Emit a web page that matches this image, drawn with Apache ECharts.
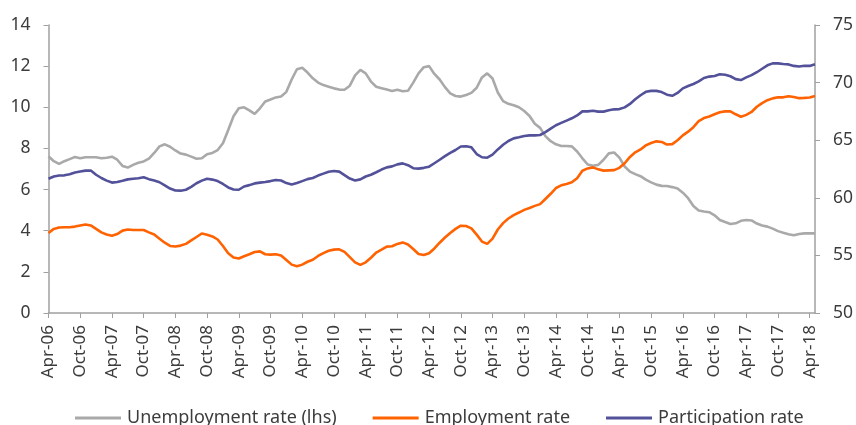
<!DOCTYPE html>
<html>
<head>
<meta charset="utf-8">
<script src="https://cdn.jsdelivr.net/npm/echarts@6/dist/echarts.min.js"></script>
<style>
  html, body { margin: 0; padding: 0; background: #ffffff; }
  #chart { width: 856px; height: 425px; }
</style>
</head>
<body>
<div id="chart"></div>
<script>
// Monthly series, Apr-06 through May-18
const startYear = 2006;
const startMonth = 3; // April (0-based)
const monthNames = ['Jan','Feb','Mar','Apr','May','Jun','Jul','Aug','Sep','Oct','Nov','Dec'];

const seriesNames = ['Unemployment rate (lhs)', 'Employment rate', 'Participation rate'];

// Unemployment rate, % (left axis)
const unemployment = [
  7.62, 7.38, 7.25, 7.38, 7.48, 7.58, 7.52, 7.57, 7.57, 7.57, 7.52, 7.55,
  7.60, 7.45, 7.15, 7.07, 7.20, 7.30, 7.37, 7.50, 7.78, 8.10, 8.20, 8.08,
  7.90, 7.75, 7.70, 7.60, 7.50, 7.52, 7.72, 7.78, 7.92, 8.25, 8.90, 9.56,
  9.95, 10.00, 9.85, 9.68, 9.95, 10.28, 10.38, 10.48, 10.52, 10.75, 11.35, 11.85,
  11.92, 11.69, 11.41, 11.20, 11.08, 11.00, 10.92, 10.86, 10.85, 11.05, 11.55, 11.82,
  11.65, 11.25, 11.00, 10.93, 10.86, 10.79, 10.85, 10.78, 10.80, 11.20, 11.65, 11.95,
  12.00, 11.62, 11.35, 10.98, 10.68, 10.55, 10.52, 10.60, 10.70, 10.95, 11.45, 11.65,
  11.40, 10.72, 10.30, 10.17, 10.10, 10.00, 9.82, 9.58, 9.20, 9.00, 8.60, 8.35,
  8.20, 8.12, 8.12, 8.10, 7.85, 7.52, 7.22, 7.16, 7.20, 7.45, 7.76, 7.80,
  7.55, 7.12, 6.87, 6.75, 6.65, 6.48, 6.35, 6.24, 6.18, 6.17, 6.12, 6.05,
  5.85, 5.58, 5.20, 4.98, 4.93, 4.90, 4.75, 4.52, 4.42, 4.33, 4.36, 4.48,
  4.52, 4.50, 4.35, 4.25, 4.20, 4.10, 3.98, 3.90, 3.83, 3.78, 3.84, 3.87,
  3.87, 3.87
];

// Employment rate, % (right axis)
const employment = [
  56.95, 57.30, 57.42, 57.44, 57.44, 57.50, 57.60, 57.68, 57.60, 57.30, 57.00, 56.82,
  56.70, 56.85, 57.15, 57.25, 57.20, 57.20, 57.20, 57.00, 56.82, 56.45, 56.10, 55.82,
  55.77, 55.85, 56.00, 56.30, 56.60, 56.90, 56.80, 56.65, 56.38, 55.82, 55.18, 54.82,
  54.73, 54.93, 55.10, 55.30, 55.35, 55.10, 55.07, 55.10, 55.00, 54.60, 54.20, 54.05,
  54.20, 54.45, 54.62, 54.95, 55.20, 55.40, 55.50, 55.53, 55.30, 54.85, 54.40, 54.18,
  54.40, 54.80, 55.25, 55.50, 55.76, 55.80, 56.00, 56.13, 55.95, 55.55, 55.12, 55.03,
  55.18, 55.60, 56.10, 56.55, 56.95, 57.30, 57.58, 57.55, 57.35, 56.80, 56.20, 56.00,
  56.45, 57.25, 57.80, 58.20, 58.50, 58.72, 58.95, 59.12, 59.30, 59.45, 59.90, 60.35,
  60.85, 61.08, 61.20, 61.35, 61.70, 62.35, 62.55, 62.64, 62.47, 62.36, 62.38, 62.40,
  62.60, 63.00, 63.55, 63.95, 64.20, 64.55, 64.76, 64.90, 64.85, 64.62, 64.66, 65.00,
  65.42, 65.74, 66.13, 66.65, 66.92, 67.06, 67.25, 67.42, 67.50, 67.50, 67.25, 67.04,
  67.20, 67.45, 67.90, 68.22, 68.47, 68.63, 68.72, 68.72, 68.82, 68.75, 68.65, 68.67,
  68.70, 68.84
];

// Participation rate, % (right axis)
const participation = [
  61.65, 61.85, 61.94, 61.95, 62.05, 62.20, 62.28, 62.36, 62.37, 62.00, 61.72, 61.49,
  61.32, 61.37, 61.48, 61.60, 61.66, 61.70, 61.78, 61.62, 61.50, 61.35, 61.08, 60.80,
  60.63, 60.62, 60.70, 60.95, 61.26, 61.49, 61.66, 61.58, 61.45, 61.20, 60.90, 60.72,
  60.70, 60.98, 61.10, 61.25, 61.32, 61.37, 61.45, 61.55, 61.50, 61.28, 61.16, 61.28,
  61.45, 61.62, 61.72, 61.93, 62.10, 62.26, 62.33, 62.27, 61.97, 61.67, 61.50, 61.60,
  61.85, 62.00, 62.22, 62.45, 62.64, 62.73, 62.90, 62.99, 62.83, 62.57, 62.53, 62.60,
  62.70, 63.00, 63.30, 63.62, 63.90, 64.15, 64.45, 64.48, 64.38, 63.80, 63.52, 63.48,
  63.75, 64.20, 64.60, 64.93, 65.16, 65.25, 65.36, 65.42, 65.42, 65.45, 65.70, 66.00,
  66.30, 66.50, 66.70, 66.90, 67.15, 67.50, 67.50, 67.56, 67.48, 67.48, 67.60, 67.68,
  67.70, 67.85, 68.15, 68.55, 68.90, 69.20, 69.28, 69.28, 69.18, 68.95, 68.85, 69.10,
  69.50, 69.70, 69.88, 70.10, 70.40, 70.52, 70.58, 70.72, 70.68, 70.55, 70.30, 70.22,
  70.45, 70.65, 70.90, 71.20, 71.50, 71.67, 71.67, 71.62, 71.58, 71.45, 71.40, 71.46,
  71.45, 71.60
];

// Month labels such as "Apr-06"
const months = unemployment.map((_, i) => {
  const m = startMonth + i;
  const y = startYear + Math.floor(m / 12);
  return monthNames[m % 12] + '-' + String(y).slice(2);
});

const fontFamily = '"Noto Sans", "DejaVu Sans", sans-serif';
const textColor = '#3c3c3c';
const axisColor = '#a0a0a0';
const colors = ['#a9a9a9', '#ff6200', '#525199'];

const chart = echarts.init(document.getElementById('chart'), null, { renderer: 'canvas' });

chart.setOption({
  animation: false,
  backgroundColor: '#ffffff',
  textStyle: { fontFamily: fontFamily },
  grid: { left: 48.5, right: 39.5, top: 25, bottom: 112, containLabel: false },
  legend: {
    left: 75,
    bottom: -2,
    padding: 0,
    icon: 'rect',
    itemWidth: 46,
    itemHeight: 3,
    itemGap: 36,
    textStyle: { fontSize: 18, color: textColor, fontFamily: fontFamily, padding: [0, 0, 0, 1] },
    data: seriesNames
  },
  xAxis: {
    type: 'category',
    boundaryGap: false,
    data: months,
    axisLine: { lineStyle: { color: axisColor, width: 1.5 } },
    axisTick: { interval: 5, length: 5, lineStyle: { color: axisColor, width: 1 } },
    axisLabel: {
      interval: 5,
      rotate: 90,
      fontSize: 17,
      color: textColor,
      margin: 12,
      fontFamily: fontFamily
    },
    splitLine: { show: false }
  },
  yAxis: [
    {
      type: 'value',
      min: 0, max: 14, interval: 2,
      position: 'left',
      axisLine: { show: true, lineStyle: { color: axisColor, width: 1.5 } },
      axisTick: { show: true, length: 5, lineStyle: { color: axisColor } },
      axisLabel: { fontSize: 17.5, color: textColor, margin: 18, fontFamily: fontFamily },
      splitLine: { show: false }
    },
    {
      type: 'value',
      min: 50, max: 75, interval: 5,
      position: 'right',
      axisLine: { show: true, lineStyle: { color: axisColor, width: 1.5 } },
      axisTick: { show: true, length: 5, lineStyle: { color: axisColor } },
      axisLabel: { fontSize: 17.5, color: textColor, margin: 18, fontFamily: fontFamily },
      splitLine: { show: false }
    }
  ],
  series: [
    {
      name: seriesNames[0], type: 'line', yAxisIndex: 0, data: unemployment,
      showSymbol: false, symbol: 'none', color: colors[0],
      lineStyle: { width: 2.6, color: colors[0] }
    },
    {
      name: seriesNames[1], type: 'line', yAxisIndex: 1, data: employment,
      showSymbol: false, symbol: 'none', color: colors[1],
      lineStyle: { width: 2.6, color: colors[1] }
    },
    {
      name: seriesNames[2], type: 'line', yAxisIndex: 1, data: participation,
      showSymbol: false, symbol: 'none', color: colors[2],
      lineStyle: { width: 2.6, color: colors[2] }
    }
  ]
});
</script>
</body>
</html>
